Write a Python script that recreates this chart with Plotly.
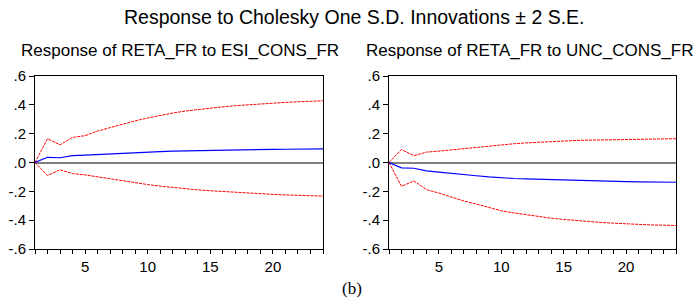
import plotly.graph_objects as go

periods = list(range(1, 25))

esi_resp = [0.0, 0.036, 0.033, 0.048, 0.051, 0.056, 0.060, 0.064, 0.068, 0.073, 0.076, 0.079, 0.081, 0.083, 0.086, 0.087, 0.088, 0.089, 0.090, 0.091, 0.092, 0.093, 0.094, 0.095]
esi_upper = [0.0, 0.165, 0.123, 0.174, 0.186, 0.218, 0.242, 0.268, 0.289, 0.309, 0.327, 0.343, 0.357, 0.368, 0.376, 0.386, 0.394, 0.401, 0.407, 0.412, 0.417, 0.421, 0.425, 0.428]
esi_lower = [0.0, -0.090, -0.051, -0.077, -0.086, -0.100, -0.113, -0.126, -0.140, -0.153, -0.164, -0.174, -0.183, -0.190, -0.196, -0.202, -0.207, -0.212, -0.217, -0.221, -0.225, -0.228, -0.231, -0.233]

unc_resp = [0.0, -0.037, -0.040, -0.058, -0.067, -0.077, -0.085, -0.092, -0.100, -0.107, -0.111, -0.114, -0.117, -0.120, -0.123, -0.125, -0.127, -0.129, -0.131, -0.133, -0.134, -0.135, -0.136, -0.137]
unc_upper = [0.0, 0.090, 0.047, 0.072, 0.079, 0.088, 0.097, 0.106, 0.115, 0.123, 0.130, 0.136, 0.141, 0.146, 0.150, 0.153, 0.155, 0.157, 0.159, 0.160, 0.161, 0.162, 0.164, 0.165]
unc_lower = [0.0, -0.165, -0.128, -0.188, -0.212, -0.242, -0.267, -0.288, -0.312, -0.335, -0.350, -0.363, -0.375, -0.386, -0.395, -0.403, -0.410, -0.416, -0.421, -0.426, -0.430, -0.433, -0.435, -0.437]

ytick_vals = [-0.6, -0.4, -0.2, 0.0, 0.2, 0.4, 0.6]
ytick_text = ["-.6", "-.4", "-.2", ".0", ".2", ".4", ".6"]
xtick_vals = [5, 10, 15, 20]

main_title = "Response to Cholesky One S.D. Innovations \u00b1 2 S.E."
sub_titles = ["Response of RETA_FR to ESI_CONS_FR", "Response of RETA_FR to UNC_CONS_FR"]
caption = "(b)"

W, H = 699, 303
FONT = "Liberation Sans, Arial, sans-serif"

fig = go.Figure()

panels = [(esi_resp, esi_upper, esi_lower, "x", "y"), (unc_resp, unc_upper, unc_lower, "x2", "y2")]
for resp, up, lo, xa, ya in panels:
    fig.add_trace(go.Scatter(x=periods, y=up, mode="lines", xaxis=xa, yaxis=ya,
                             line=dict(color="#ff0000", width=1, dash="3px,1px"), showlegend=False))
    fig.add_trace(go.Scatter(x=periods, y=lo, mode="lines", xaxis=xa, yaxis=ya,
                             line=dict(color="#ff0000", width=1, dash="3px,1px"), showlegend=False))
    fig.add_trace(go.Scatter(x=periods, y=resp, mode="lines", xaxis=xa, yaxis=ya,
                             line=dict(color="#0000ff", width=1.2), showlegend=False))

x_common = dict(range=[1, 24], tickvals=xtick_vals, ticks="outside", ticklen=4, tickwidth=1,
                tickcolor="#000", showgrid=False, zeroline=False, showline=True, mirror=True,
                linecolor="#000", linewidth=1, automargin=False,
                tickfont=dict(family=FONT, size=15, color="#000"),
                minor=dict(dtick=1, tick0=1, ticks="outside", ticklen=4, tickcolor="#000", showgrid=False))
y_common = dict(range=[-0.6, 0.6], tickvals=ytick_vals, ticktext=ytick_text, ticks="outside",
                ticklen=5, tickwidth=1, tickcolor="#000", showgrid=False, zeroline=True,
                zerolinecolor="#808080", zerolinewidth=2, showline=True, mirror=True,
                linecolor="#000", linewidth=1, automargin=False,
                tickfont=dict(family=FONT, size=15, color="#000"))

ybot = 1 - 249 / H
ytop = 1 - 76 / H
fig.update_layout(
    width=W, height=H,
    margin=dict(l=0, r=0, t=0, b=0, autoexpand=False),
    paper_bgcolor="white", plot_bgcolor="white",
    xaxis=dict(domain=[35 / W, 323 / W], anchor="y", **x_common),
    yaxis=dict(domain=[ybot, ytop], anchor="x", **y_common),
    xaxis2=dict(domain=[389 / W, 676 / W], anchor="y2", **x_common),
    yaxis2=dict(domain=[ybot, ytop], anchor="x2", **y_common),
    annotations=[
        dict(text=main_title, x=354 / W, y=1 - 17 / H, xref="paper", yref="paper",
             xanchor="center", yanchor="middle", showarrow=False,
             font=dict(family=FONT, size=19.5, color="#000")),
        dict(text=sub_titles[0], x=180 / W, y=1 - 50 / H, xref="paper", yref="paper",
             xanchor="center", yanchor="middle", showarrow=False,
             font=dict(family=FONT, size=17, color="#000")),
        dict(text=sub_titles[1], x=530 / W, y=1 - 50 / H, xref="paper", yref="paper",
             xanchor="center", yanchor="middle", showarrow=False,
             font=dict(family=FONT, size=17, color="#000")),
        dict(text=caption, x=352 / W, y=1 - 288 / H, xref="paper", yref="paper",
             xanchor="center", yanchor="middle", showarrow=False,
             font=dict(family="Liberation Serif, Times New Roman, serif", size=17, color="#000")),
    ],
)

fig.write_html("out.html", config={"displayModeBar": False},
               post_script="document.body.style.margin='0';document.body.style.overflow='hidden';")
